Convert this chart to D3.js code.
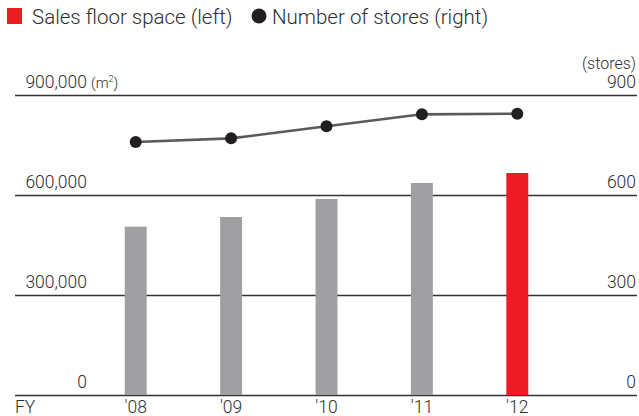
<!DOCTYPE html>
<html>
<head>
<meta charset="utf-8">
<script src="https://cdn.jsdelivr.net/npm/d3@7"></script>
<style>
  html, body { margin: 0; padding: 0; background: #fff; }
  svg { display: block; }
  text { font-family: Roboto, "Liberation Sans", sans-serif; font-weight: 300; fill: #2e2e2e; }
</style>
</head>
<body>
<svg id="chart" width="639" height="416"></svg>
<script>
// Fiscal years and values
const years = ["'08", "'09", "'10", "'11", "'12"];
const floorSpace = [505000, 534000, 588000, 636000, 666000]; // m², left axis
const storeCount = [759, 770, 806, 842, 844];               // stores, right axis
const leftTicks = [0, 300000, 600000, 900000];
const rightTicks = [0, 300, 600, 900];

const svg = d3.select("#chart");

const x = d3.scaleBand().domain(years).range([88.5, 564.5]).paddingInner(0.77).paddingOuter(0.38);
const yL = d3.scaleLinear().domain([0, 900000]).range([395, 95]);
const yR = d3.scaleLinear().domain([0, 900]).range([395, 95]);

// Legend
const legend = svg.append("g");
legend.append("rect").attr("x", 7).attr("y", 8).attr("width", 15).attr("height", 16).attr("fill", "#ed1c24");
legend.append("text").attr("x", 32).attr("y", 24).attr("font-size", 20.5).text("Sales floor space (left)");
legend.append("circle").attr("cx", 259).attr("cy", 16).attr("r", 7.5).attr("fill", "#231f20");
legend.append("text").attr("x", 272).attr("y", 24).attr("font-size", 20.5).text("Number of stores (right)");

// Horizontal gridlines at each tick
svg.append("g").selectAll("line").data(leftTicks).join("line")
  .attr("x1", 15).attr("x2", 637)
  .attr("y1", d => Math.round(yL(d)) + 0.5).attr("y2", d => Math.round(yL(d)) + 0.5)
  .attr("stroke", "#333").attr("stroke-width", 1.3);

// Left tick labels
const fmt = d3.format(",");
svg.append("g").selectAll("text").data(leftTicks).join("text")
  .attr("x", 87).attr("y", d => yL(d) - 7)
  .attr("text-anchor", "end").attr("font-size", 17.5)
  .text(d => fmt(d));
const unitL = svg.append("text").attr("x", 91).attr("y", yL(900000) - 7).attr("font-size", 14.5);
unitL.append("tspan").text("(m");
unitL.append("tspan").attr("font-size", 9).attr("dy", -6).text("2");
unitL.append("tspan").attr("dy", 6).text(")");

// Right tick labels
svg.append("g").selectAll("text").data(rightTicks).join("text")
  .attr("x", 636).attr("y", d => yR(d) - 7)
  .attr("text-anchor", "end").attr("font-size", 17.5)
  .text(d => d);
svg.append("text").attr("x", 636).attr("y", yR(900) - 26)
  .attr("text-anchor", "end").attr("font-size", 16).text("(stores)");

// Bars
svg.append("g").selectAll("rect").data(years).join("rect")
  .attr("x", d => x(d)).attr("width", x.bandwidth())
  .attr("y", (d, i) => yL(floorSpace[i]))
  .attr("height", (d, i) => yL(0) - yL(floorSpace[i]))
  .attr("fill", (d, i) => i === years.length - 1 ? "#ed1c24" : "#a0a0a2");

// Store count line and dots
const cx = d => x(d) + x.bandwidth() / 2;
svg.append("path")
  .datum(years)
  .attr("d", d3.line().x(cx).y((d, i) => yR(storeCount[i])))
  .attr("fill", "none").attr("stroke", "#5a5a5a").attr("stroke-width", 2.6);
svg.append("g").selectAll("circle").data(years).join("circle")
  .attr("cx", cx).attr("cy", (d, i) => yR(storeCount[i]))
  .attr("r", 6).attr("fill", "#231f20");

// Category labels
svg.append("text").attr("x", 15).attr("y", 413).attr("font-size", 17.5).text("FY");
svg.append("g").selectAll("text").data(years).join("text")
  .attr("x", cx).attr("y", 413).attr("text-anchor", "middle").attr("font-size", 17.5)
  .text(d => d);
</script>
</body>
</html>
